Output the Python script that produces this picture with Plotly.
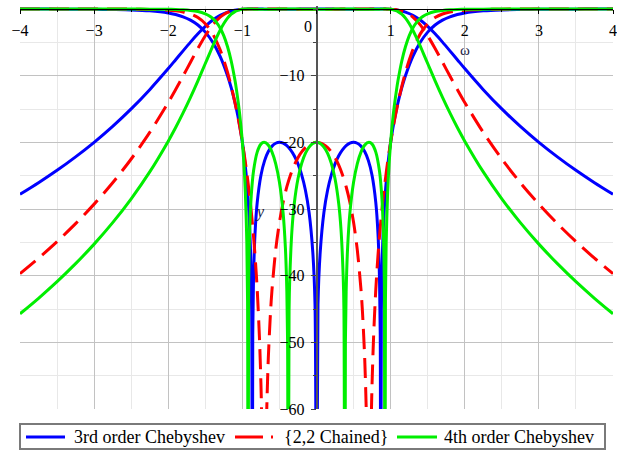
import plotly.graph_objects as go

# ---- data (positive half of omega; curves are symmetric) ----
# 3rd order Chebyshev
w3 = [0, 0.02, 0.05, 0.1, 0.15, 0.2, 0.25, 0.3, 0.35, 0.4,
      0.45, 0.5, 0.55, 0.6, 0.65, 0.7, 0.75, 0.8, 0.83, 0.85,
      0.86, 0.866, 0.875, 0.89, 0.9, 0.92, 0.95, 0.98, 1.0, 1.03,
      1.06, 1.1, 1.15, 1.2, 1.3, 1.4, 1.5, 1.6, 1.7, 1.8,
      1.9, 2.0, 2.25, 2.5, 2.75, 3.0, 3.25, 3.5, 3.75, 4.0]
s11_3 = [-100, -44.40, -36.47, -30.53, -27.16, -24.88, -23.23, -22.01, -21.12, -20.50,
         -20.13, -20.00, -20.14, -20.57, -21.38, -22.74, -24.97, -29.03, -33.81, -40.54,
         -48.88, -100, -45.20, -36.44, -33.27, -28.97, -24.71, -21.66, -20.00, -17.88,
         -16.07, -14.01, -11.84, -10.01, -7.11, -4.99, -3.47, -2.40, -1.67, -1.17,
         -0.83, -0.59, -0.28, -0.14, -0.08, -0.04, -0.03, -0.02, -0.01, -0.01]
s21_3 = [0, 0, 0, 0, 0, -0.01, -0.02, -0.03, -0.03, -0.04,
         -0.04, -0.04, -0.04, -0.04, -0.03, -0.02, -0.01, -0.01, 0, 0,
         0, 0, 0, 0, 0, -0.01, -0.02, -0.03, -0.04, -0.07,
         -0.11, -0.18, -0.29, -0.46, -0.94, -1.65, -2.60, -3.72, -4.97, -6.28,
         -7.61, -8.94, -12.10, -14.99, -17.61, -20.00, -22.18, -24.20, -26.06, -27.80]

# {2,2} chained
w22 = [0, 0.05, 0.1, 0.15, 0.2, 0.25, 0.3, 0.35, 0.4, 0.45,
       0.5, 0.55, 0.6, 0.62, 0.65, 0.67, 0.68, 0.7071, 0.73, 0.74,
       0.75, 0.77, 0.8, 0.83, 0.86, 0.9, 0.95, 1.0, 1.05, 1.1,
       1.15, 1.2, 1.25, 1.3, 1.4, 1.5, 1.6, 1.7, 1.8, 1.9,
       2.0, 2.25, 2.5, 2.75, 3.0, 3.25, 3.5, 3.75, 4.0]
s11_22 = [-20.00, -20.09, -20.35, -20.80, -21.44, -22.30, -23.42, -24.85, -26.66, -28.98,
          -32.00, -36.09, -42.07, -45.40, -52.34, -59.58, -64.91, -100, -67.23, -60.81,
          -56.08, -49.19, -42.07, -36.87, -32.74, -28.26, -23.74, -20.00, -16.81, -14.04,
          -11.62, -9.51, -7.68, -6.11, -3.73, -2.20, -1.28, -0.75, -0.45, -0.28,
          -0.18, -0.06, -0.02, -0.01, 0, 0, 0, 0, 0]
s21_22 = [-0.04, -0.04, -0.04, -0.04, -0.03, -0.03, -0.02, -0.01, -0.01, 0,
          0, 0, 0, 0, 0, 0, 0, 0, 0, 0,
          0, 0, 0, 0, 0, 0, -0.02, -0.04, -0.09, -0.17,
          -0.31, -0.52, -0.81, -1.22, -2.39, -4.01, -5.92, -7.98, -10.05, -12.07,
          -14.02, -18.51, -22.50, -26.06, -29.27, -32.20, -34.89, -37.38, -39.70]

# 4th order Chebyshev
w4 = [0, 0.05, 0.1, 0.15, 0.2, 0.25, 0.3, 0.33, 0.36, 0.37,
      0.3827, 0.39, 0.4, 0.42, 0.45, 0.5, 0.55, 0.6, 0.65, 0.7071,
      0.75, 0.8, 0.85, 0.88, 0.9, 0.91, 0.915, 0.9239, 0.93, 0.94,
      0.96, 0.98, 1.0, 1.02, 1.05, 1.08, 1.1, 1.15, 1.2, 1.25,
      1.3, 1.35, 1.4, 1.45, 1.5, 1.6, 1.7, 1.8, 1.9, 2.0,
      2.25, 2.5, 2.75, 3.0, 3.25, 3.5, 3.75, 4.0]
s11_4 = [-20.00, -20.17, -20.71, -21.67, -23.16, -25.46, -29.21, -32.96, -40.17, -45.19,
         -100, -49.93, -42.43, -35.75, -30.65, -25.99, -23.23, -21.47, -20.42, -20.00,
         -20.27, -21.47, -24.35, -27.97, -32.68, -37.11, -40.85, -100, -43.67, -34.99,
         -27.46, -23.13, -20.00, -17.52, -14.52, -12.09, -10.70, -7.84, -5.67, -4.04,
         -2.85, -2.00, -1.41, -1.00, -0.72, -0.38, -0.21, -0.12, -0.07, -0.05,
         -0.02, -0.01, 0, 0, 0, 0, 0, 0]
s21_4 = [-0.04, -0.04, -0.04, -0.03, -0.02, -0.01, 0, 0, 0, 0,
         0, 0, 0, 0, 0, -0.01, -0.02, -0.03, -0.04, -0.04,
         -0.04, -0.03, -0.02, -0.01, 0, 0, 0, 0, 0, 0,
         -0.01, -0.02, -0.04, -0.08, -0.16, -0.28, -0.39, -0.78, -1.37, -2.18,
         -3.18, -4.32, -5.57, -6.87, -8.18, -10.78, -13.26, -15.59, -17.78, -19.82,
         -24.44, -28.47, -32.05, -35.27, -38.20, -40.90, -43.39, -45.72]

series_names = ["3rd order Chebyshev", "{2,2 Chained}", "4th order Chebyshev"]
x_ticks = [-4, -3, -2, -1, 0, 1, 2, 3, 4]
x_ticktext = ["\u22124", "\u22123", "\u22122", "\u22121", "", "1", "2", "3", "4"]
y_ticks = [-60, -50, -40, -30, -20, -10]
y_ticktext = ["\u221260", "\u221250", "\u221240", "\u221230", "\u221220", "\u221210"]


def full(w, v):
    """Both halves of a symmetric curve."""
    return [-a for a in w[::-1]] + w[1:], v[::-1] + v[1:]


FONT = "Liberation Serif"
colors = ["#0000ff", "#ff0000", "#00ee00"]
dashes = ["solid", "20px,9px", "solid"]
legend_dashes = ["solid", "28px,8px", "solid"]
data = [(w3, s21_3, s11_3), (w22, s21_22, s11_22), (w4, s21_4, s11_4)]

fig = go.Figure()
for name, col, dsh, (w, s21, s11) in zip(series_names, colors, dashes, data):
    for vals in (s21, s11):
        xs, ys = full(w, vals)
        fig.add_trace(go.Scatter(
            x=xs, y=ys, mode="lines", name=name, legendgroup=name,
            showlegend=False,
            line=dict(color=col, width=3, dash=dsh, shape="spline", smoothing=0.8),
            hoverinfo="skip",
        ))

# ---- hand-built legend box (matches the boxed one-row legend of the original) ----
W, H = 617, 452
ML, MR, MT, MB = 20, 4, 6, 43
PW, PH = W - ML - MR, H - MT - MB


def px(xp):
    return (xp - ML) / PW


def py(yp):
    return (H - MB - yp) / PH


shapes = [dict(type="rect", xref="paper", yref="paper",
               x0=px(20), x1=px(605), y0=py(449), y1=py(424),
               line=dict(color="#7a7a7a", width=2), fillcolor="white", layer="above")]
annotations = []
sample_x = [(26, 65), (235, 273), (397, 437)]
text_x = [72, 282, 442]
ly = py(437)
for name, col, ld, (a, b), tx in zip(series_names, colors, legend_dashes, sample_x, text_x):
    shapes.append(dict(type="line", xref="paper", yref="paper", x0=px(a), x1=px(b),
                       y0=ly, y1=ly, line=dict(color=col, width=3, dash=ld), layer="above"))
    annotations.append(dict(x=px(tx), y=ly, xref="paper", yref="paper", text=name,
                            xanchor="left", yanchor="middle", showarrow=False,
                            font=dict(family=FONT, size=18, color="black")))

annotations += [
    dict(x=-0.12, y=-2.6, xref="x", yref="y", text="0", showarrow=False,
         font=dict(family=FONT, size=16, color="black")),
    dict(x=2.0, y=-6.1, xref="x", yref="y", text="\u03c9", showarrow=False,
         font=dict(family=FONT, size=15, color="#222244")),
    dict(x=-0.76, y=-30.4, xref="x", yref="y", text="<i>y</i>", showarrow=False,
         font=dict(family=FONT, size=16, color="#222244")),
]

YTOP = 0.45
fig.update_layout(
    width=W, height=H,
    margin=dict(l=ML, r=MR, t=MT, b=MB, autoexpand=False),
    paper_bgcolor="white", plot_bgcolor="white",
    font=dict(family=FONT, size=16, color="black"),
    showlegend=False,
    xaxis=dict(
        range=[-4, 4], side="bottom", anchor="free", position=60 / (60 + YTOP),
        tickmode="array", tickvals=x_ticks, ticktext=x_ticktext,
        ticks="outside", ticklen=4, tickcolor="black", tickwidth=1,
        ticklabelstandoff=3,
        showline=True, linecolor="black", linewidth=1,
        showgrid=True, gridcolor="#c2c2c2", gridwidth=1, zeroline=False,
        minor=dict(tickmode="linear", tick0=0, dtick=0.5, showgrid=True,
                   gridcolor="#e8e8e8", gridwidth=1, ticks="outside", ticklen=2,
                   tickcolor="black"),
        tickfont=dict(family=FONT, size=16, color="black"),
    ),
    yaxis=dict(
        range=[-60, YTOP], anchor="free", position=0.5, side="left",
        tickmode="array", tickvals=y_ticks, ticktext=y_ticktext,
        ticks="outside", ticklen=5, tickcolor="#444", tickwidth=1,
        ticklabelstandoff=3,
        showline=True, linecolor="#555555", linewidth=1.5,
        showgrid=True, gridcolor="#c2c2c2", gridwidth=1, zeroline=False,
        minor=dict(tickmode="linear", tick0=0, dtick=5, showgrid=True,
                   gridcolor="#e8e8e8", gridwidth=1, ticks="outside", ticklen=3,
                   tickcolor="#444"),
        tickfont=dict(family=FONT, size=16, color="black"),
    ),
    shapes=shapes,
    annotations=annotations,
)

fig.write_html("out.html")
